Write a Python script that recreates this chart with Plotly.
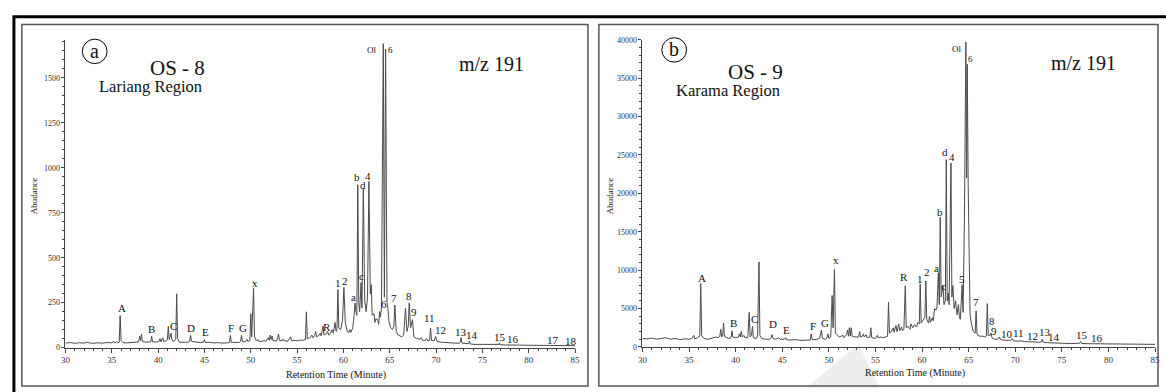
import plotly.graph_objects as go

W, H = 1166, 392

# ---------------- Panel (a): OS-8, Lariang Region (m/z 191) ----------------
time_a = [
    30.0, 30.5, 31.0, 31.5, 32.0, 32.3, 32.6, 33.0, 33.5, 34.0,
    34.5, 35.0, 35.2, 35.3, 35.5, 35.6, 35.8, 35.9, 36.0, 36.2,
    36.6, 37.0, 37.5, 37.9, 38.0, 38.1, 38.2, 38.3, 38.7, 39.2,
    39.3, 39.4, 39.8, 40.1, 40.2, 40.3, 40.5, 40.6, 40.9, 41.0,
    41.1, 41.2, 41.4, 41.5, 41.7, 41.9, 42.0, 42.1, 42.3, 42.8,
    43.2, 43.4, 43.5, 43.6, 43.8, 44.2, 44.6, 44.9, 45.0, 45.1,
    45.5, 46.0, 46.5, 47.0, 47.5, 47.7, 47.8, 47.9, 48.3, 48.8,
    48.9, 49.0, 49.1, 49.4, 49.6, 49.7, 49.9, 50.0, 50.1, 50.3,
    50.4, 50.6, 50.8, 50.9, 51.2, 51.5, 51.6, 51.9, 52.0, 52.1,
    52.2, 52.3, 52.4, 52.8, 53.0, 53.1, 53.4, 53.5, 53.6, 54.0,
    54.3, 54.4, 54.8, 55.0, 55.3, 55.6, 55.9, 56.0, 56.1, 56.4,
    56.6, 56.7, 56.9, 57.0, 57.1, 57.4, 57.5, 57.6, 57.8, 57.9,
    58.1, 58.3, 58.4, 58.6, 58.8, 58.9, 59.1, 59.2, 59.3, 59.4,
    59.5, 59.7, 59.9, 60.05, 60.2, 60.4, 60.6, 60.7, 60.8, 61.0,
    61.1, 61.25, 61.35, 61.45, 61.55, 61.65, 61.75, 61.9, 62.0, 62.15,
    62.3, 62.45, 62.6, 62.75, 62.9, 63.0, 63.1, 63.3, 63.4, 63.5,
    63.7, 63.8, 63.9, 64.0, 64.1, 64.3, 64.42, 64.55, 64.7, 64.8,
    64.9, 65.1, 65.3, 65.45, 65.55, 65.7, 65.9, 66.1, 66.3, 66.5,
    66.7, 66.85, 67.0, 67.1, 67.25, 67.45, 67.6, 67.9, 68.0, 68.1,
    68.4, 68.5, 68.8, 69.0, 69.1, 69.3, 69.4, 69.5, 69.8, 69.95,
    70.1, 70.5, 71.0, 71.5, 72.0, 72.5, 72.6, 72.7, 72.8, 73.2,
    73.5, 73.6, 73.7, 74.2, 75.0, 76.0, 76.8, 76.85, 76.9, 77.5,
    78.1, 78.2, 78.3, 79.0, 80.0, 81.0, 82.0, 83.0, 84.0, 85.0,
]
abund_a = [
    25, 28, 24, 27, 25, 30, 26, 24, 27, 25,
    28, 27, 35, 26, 33, 27, 30, 178, 40, 28,
    26, 27, 30, 32, 63, 40, 76, 35, 30, 32,
    63, 33, 30, 35, 50, 32, 55, 35, 38, 45,
    118, 45, 80, 40, 35, 45, 299, 50, 30, 28,
    30, 35, 68, 35, 32, 30, 28, 30, 45, 28,
    30, 26, 28, 25, 27, 28, 68, 30, 28, 30,
    35, 68, 33, 32, 45, 33, 40, 188, 60, 332,
    60, 38, 45, 33, 35, 40, 33, 55, 40, 70,
    45, 65, 38, 38, 75, 40, 38, 48, 38, 36,
    60, 38, 40, 38, 42, 40, 45, 199, 50, 55,
    70, 55, 65, 90, 60, 70, 80, 65, 120, 70,
    75, 90, 70, 80, 100, 80, 140, 90, 95, 323,
    110, 100, 150, 335, 140, 90, 85, 100, 85, 110,
    150, 248, 200, 180, 906, 250, 200, 362, 220, 884,
    260, 200, 280, 924, 300, 350, 180, 190, 140, 160,
    155, 130, 200, 170, 220, 1690, 280, 1660, 250, 217,
    150, 110, 100, 120, 237, 90, 70, 65, 60, 70,
    220, 90, 120, 248, 110, 155, 60, 50, 55, 45,
    55, 42, 40, 50, 38, 40, 109, 40, 38, 62,
    35, 30, 28, 25, 25, 24, 30, 55, 25, 22,
    22, 35, 20, 18, 17, 16, 18, 25, 16, 15,
    15, 18, 14, 14, 13, 13, 12, 12, 11, 11,
]
labels_a = ["A", "B", "C", "D", "E", "F", "G", "x", "R", "1", "2", "a", "b", "c",
            "d", "4", "6", "7", "8", "9", "11", "12", "13", "14", "15", "16", "17", "18"]
label_time_a = [36.1, 39.3, 41.65, 43.6, 45.1, 47.9, 49.15, 50.5, 58.2, 59.4, 60.2, 61.1,
                61.45, 61.9, 62.15, 62.7, 64.4, 65.5, 67.1, 67.6, 69.25, 70.45, 72.7,
                73.9, 76.85, 78.25, 82.65, 84.6]
label_abund_a = [221, 103, 123, 107, 85, 107, 107, 362, 114, 357, 368, 281,
                 949, 400, 906, 955, 245, 276, 286, 200, 167, 96, 88,
                 69, 60, 49, 42, 36]
top_labels_a = ["Ol", "6"]
top_time_a = [63.1, 65.05]
top_abund_a = [1656, 1656]

# ---------------- Panel (b): OS-9, Karama Region (m/z 191) ----------------
time_b = [
    30.0, 30.5, 31.0, 31.5, 32.0, 32.5, 33.0, 33.5, 34.0, 34.5,
    35.0, 35.3, 35.5, 35.6, 35.9, 36.0, 36.15, 36.25, 36.35, 36.6,
    37.0, 37.5, 37.9, 38.1, 38.3, 38.4, 38.5, 38.6, 38.7, 38.8,
    39.2, 39.5, 39.6, 39.7, 40.0, 40.3, 40.4, 40.5, 40.6, 40.7,
    40.9, 41.0, 41.3, 41.45, 41.55, 41.7, 41.8, 41.9, 42.2, 42.35,
    42.5, 42.6, 42.8, 43.2, 43.6, 43.8, 43.9, 44.0, 44.3, 44.6,
    44.8, 45.2, 45.35, 45.5, 46.0, 46.5, 47.0, 47.5, 48.0, 48.1,
    48.2, 48.5, 48.9, 49.0, 49.2, 49.3, 49.6, 49.8, 49.9, 50.0,
    50.2, 50.35, 50.45, 50.6, 50.7, 50.9, 51.1, 51.5, 51.6, 51.9,
    52.0, 52.1, 52.2, 52.3, 52.4, 52.5, 52.8, 53.2, 53.3, 53.4,
    53.6, 53.7, 53.8, 54.0, 54.1, 54.4, 54.5, 54.6, 55.0, 55.2,
    55.3, 55.6, 55.8, 56.1, 56.3, 56.4, 56.5, 56.7, 56.9, 57.0,
    57.2, 57.3, 57.5, 57.6, 57.8, 57.9, 58.05, 58.2, 58.3, 58.5,
    58.7, 58.8, 59.0, 59.2, 59.4, 59.55, 59.7, 59.8, 59.9, 60.1,
    60.3, 60.4, 60.5, 60.7, 60.8, 60.9, 61.1, 61.2, 61.35, 61.5,
    61.6, 61.75, 61.85, 61.95, 62.05, 62.25, 62.35, 62.5, 62.6, 62.7,
    62.8, 62.9, 63.1, 63.2, 63.3, 63.45, 63.6, 63.75, 63.9, 64.0,
    64.1, 64.3, 64.4, 64.55, 64.7, 64.78, 64.85, 64.95, 65.05, 65.15,
    65.3, 65.5, 65.7, 65.8, 65.9, 66.2, 66.5, 66.8, 66.9, 67.0,
    67.1, 67.3, 67.4, 67.5, 67.8, 68.1, 68.3, 68.4, 68.6, 69.0,
    69.5, 69.7, 69.8, 70.3, 70.6, 71.0, 71.5, 72.0, 72.5, 72.8,
    72.9, 73.0, 73.5, 74.0, 75.0, 76.0, 76.9, 77.0, 77.1, 78.0,
    79.0, 80.0, 81.0, 82.0, 83.0, 84.0, 85.0,
]
abund_b = [
    1100, 1050, 1150, 1000, 1100, 1200, 1000, 1100, 950, 1050,
    1000, 1100, 1500, 1050, 1200, 1300, 1400, 8270, 1500, 1100,
    1000, 1150, 1300, 1200, 1400, 2300, 1300, 1500, 3100, 1400,
    1100, 1200, 2100, 1300, 1200, 1300, 1700, 1300, 2000, 1300,
    1500, 1200, 1200, 4500, 1300, 1500, 2700, 1200, 1100, 1400,
    11070, 1500, 1100, 1000, 1000, 1200, 1600, 1100, 1000, 1200,
    1000, 1000, 1200, 900, 900, 950, 850, 900, 900, 1700,
    1000, 950, 1000, 1100, 2200, 1100, 1000, 1200, 1700, 1100,
    1300, 6700, 2500, 10100, 1800, 1600, 1300, 1500, 1200, 1600,
    2200, 1400, 2500, 1400, 2500, 1400, 1300, 1300, 2000, 1300,
    1400, 1700, 1300, 1600, 1200, 1300, 2500, 1200, 1100, 1500,
    1200, 1300, 1200, 1300, 1400, 5850, 1800, 2000, 2500, 1900,
    2800, 2000, 3000, 2100, 2600, 2100, 2300, 7970, 2500, 2700,
    2300, 3000, 2500, 2900, 2600, 3200, 3000, 8200, 3100, 3500,
    3800, 8600, 3600, 3100, 4000, 3200, 3800, 3400, 5000, 4800,
    5200, 9670, 5500, 16880, 6500, 8000, 5500, 6000, 24390, 6000,
    7000, 5500, 23960, 6500, 8000, 5000, 6000, 4200, 5500, 4000,
    3600, 8100, 4500, 17000, 39700, 22000, 36800, 21000, 8000, 4200,
    3000, 2000, 1800, 4700, 1600, 1400, 1400, 1300, 1400, 5640,
    1500, 1500, 1800, 1200, 1000, 1000, 1300, 1000, 900, 900,
    850, 1100, 800, 750, 800, 700, 700, 650, 600, 650,
    1000, 600, 550, 500, 480, 450, 480, 700, 450, 420,
    400, 380, 380, 360, 350, 350, 340,
]
labels_b = ["A", "B", "C", "D", "E", "F", "G", "x", "R", "1", "2", "a", "b", "c",
            "d", "4", "5", "7", "8", "9", "10", "11", "12", "13", "14", "15", "16"]
label_time_b = [36.4, 39.8, 42.0, 44.0, 45.5, 48.3, 49.6, 50.75, 58.1, 59.8, 60.55, 61.5,
                61.9, 62.35, 62.5, 63.2, 64.25, 65.8, 67.55, 67.75, 69.1, 70.4, 71.9,
                73.15, 74.2, 77.2, 78.8]
label_abund_b = [9030, 3090, 3600, 3050, 2160, 2670, 3140, 11320, 9160, 8900, 9800, 10300,
                 17600, 8000, 25360, 24680, 8900, 5850, 3400, 2070, 1690, 1780, 1440,
                 1910, 1270, 1530, 1150]
top_labels_b = ["Ol", "6"]
top_time_b = [63.7, 65.25]
top_abund_b = [38840, 37530]

x_ticks = [30, 35, 40, 45, 50, 55, 60, 65, 70, 75, 80, 85]
y_ticks_a = [0, 250, 500, 750, 1000, 1250, 1500]
y_ticks_b = [0, 5000, 10000, 15000, 20000, 25000, 30000, 35000, 40000]


def px(x):
    return x / W


def py(y):
    return 1 - y / H


SERIF = "Liberation Serif, Times New Roman, serif"
LINE = "#4a4a4a"

fig = go.Figure()
fig.add_trace(go.Scatter(x=time_a, y=abund_a, mode="lines", xaxis="x", yaxis="y",
                         line=dict(color=LINE, width=1), hoverinfo="skip", showlegend=False))
fig.add_trace(go.Scatter(x=time_b, y=abund_b, mode="lines", xaxis="x2", yaxis="y2",
                         line=dict(color=LINE, width=1), hoverinfo="skip", showlegend=False))

xcommon = dict(range=[30, 85], tickvals=x_ticks, ticktext=[str(t) for t in x_ticks],
               ticks="outside", ticklen=4, tickwidth=1, tickcolor="#444",
               showline=True, linecolor="#444", linewidth=1, showgrid=False, zeroline=False,
               tickfont=dict(family=SERIF, size=9, color="#333"), fixedrange=True,
               minor=dict(dtick=1, tick0=30, ticks="outside", ticklen=2, tickcolor="#444"))
ycommon = dict(ticks="outside", ticklen=3, tickwidth=1, tickcolor="#444",
               showline=True, linecolor="#444", linewidth=1, showgrid=False, zeroline=False,
               tickfont=dict(family=SERIF, size=8, color="#333"), fixedrange=True)

fig.update_layout(
    width=W, height=H, margin=dict(l=0, r=0, t=0, b=0),
    paper_bgcolor="white", plot_bgcolor="rgba(0,0,0,0)", showlegend=False,
    xaxis=dict(domain=[px(61), px(575)], anchor="y", **xcommon),
    xaxis2=dict(domain=[px(643), px(1160)], anchor="y2", **xcommon),
    yaxis=dict(domain=[py(351.7), py(37)], anchor="x", range=[0, 1710],
               tickvals=y_ticks_a, ticktext=[str(t) for t in y_ticks_a],
               minor=dict(dtick=50, tick0=0, ticks="outside", ticklen=2, tickcolor="#444"),
               **ycommon),
    yaxis2=dict(domain=[py(351), py(36.6)], anchor="x2", range=[0, 40000],
                tickvals=y_ticks_b, ticktext=[str(t) for t in y_ticks_b],
                minor=dict(dtick=1000, tick0=0, ticks="outside", ticklen=2, tickcolor="#444"),
                **ycommon),
)

shapes = [
    # faint watermark triangle
    dict(type="path", xref="paper", yref="paper", layer="below",
         path=f"M {px(808)},{py(393)} L {px(861)},{py(348)} L {px(882)},{py(393)} Z",
         fillcolor="#eeeeee", line=dict(width=0)),
    # outer frame
    dict(type="rect", xref="paper", yref="paper", x0=px(9), y0=py(13), x1=px(1180), y1=py(405),
         line=dict(color="black", width=3)),
    # panel frames
    dict(type="rect", xref="paper", yref="paper", x0=px(17), y0=py(21), x1=px(588), y1=py(391),
         line=dict(color="#555", width=1.5)),
    dict(type="rect", xref="paper", yref="paper", x0=px(599), y0=py(21), x1=px(1163), y1=py(391),
         line=dict(color="#555", width=1.5)),
    # circled panel letters
    dict(type="circle", xref="paper", yref="paper", x0=px(78), y0=py(61), x1=px(103), y1=py(36),
         line=dict(color="black", width=1)),
    dict(type="circle", xref="paper", yref="paper", x0=px(662.5), y0=py(59.5), x1=px(687.5), y1=py(34.5),
         line=dict(color="black", width=1)),
]
fig.update_layout(shapes=shapes)

ann = []


def txt(x, y, s, size, xref="paper", yref="paper", **kw):
    d = dict(x=x, y=y, xref=xref, yref=yref, text=s, showarrow=False,
             font=dict(family=SERIF, size=size, color="#111"),
             xanchor="center", yanchor="middle")
    d.update(kw)
    ann.append(d)


# peak labels
for s, t, v in zip(labels_a, label_time_a, label_abund_a):
    txt(t, v, s, 11, xref="x", yref="y")
for s, t, v in zip(top_labels_a, top_time_a, top_abund_a):
    txt(t, v, s, 9, xref="x", yref="y")
for s, t, v in zip(labels_b, label_time_b, label_abund_b):
    txt(t, v, s, 11, xref="x2", yref="y2")
for s, t, v in zip(top_labels_b, top_time_b, top_abund_b):
    txt(t, v, s, 9, xref="x2", yref="y2")

# titles / decorations
txt(px(90.5), py(48), "a", 20)
txt(px(675), py(46.5), "b", 20)
txt(px(173.5), py(66), "OS - 8", 21)
txt(px(147), py(84), "Lariang Region", 16.5)
txt(px(490.5), py(61), "m/z 191", 20)
txt(px(756.5), py(70), "OS - 9", 21)
txt(px(729.5), py(89), "Karama Region", 16.5)
txt(px(1088), py(60), "m/z 191", 20)
txt(px(334), py(380), "Retention Time (Minute)", 10)
txt(px(917.5), py(378), "Retention Time (Minute)", 10)
txt(px(30), py(197), "Abudance", 9, textangle=-90)
txt(px(611), py(197), "Abudance", 9, textangle=-90)

fig.update_layout(annotations=ann)
fig.write_html(
    "out.html",
    config={"displayModeBar": False, "staticPlot": True},
    post_script="document.body.style.margin='0';document.body.style.overflow='hidden';",
)
